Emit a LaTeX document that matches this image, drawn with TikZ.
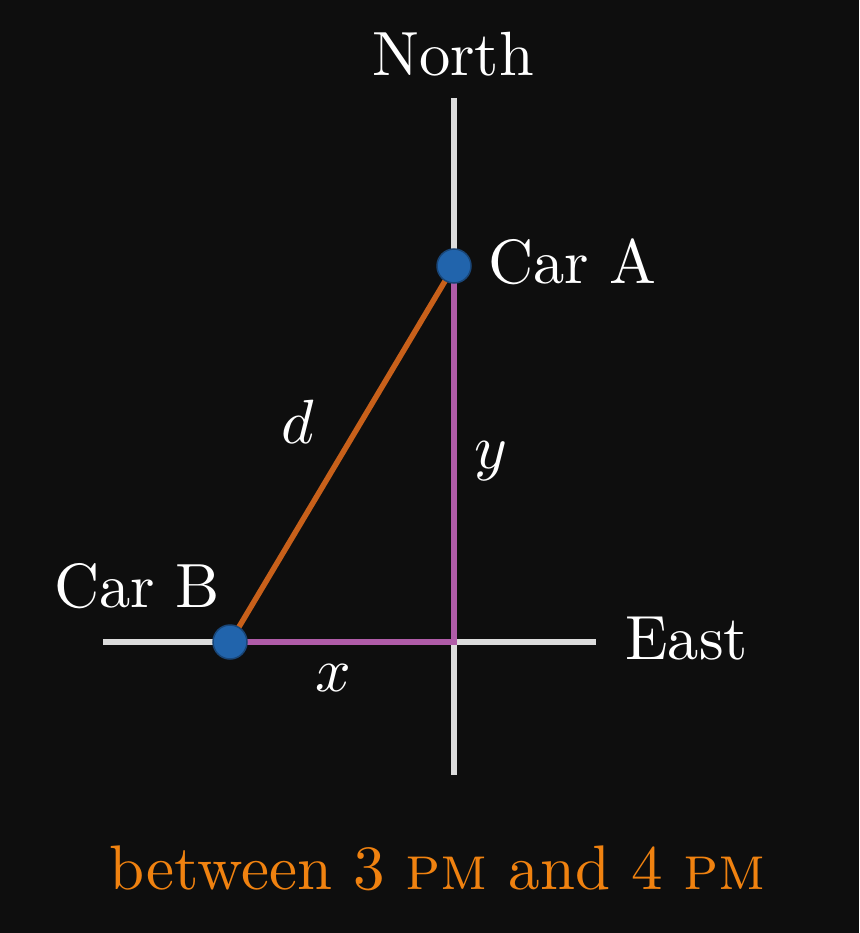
\documentclass[tikz,border=0pt]{standalone}
\begin{document}
\begin{tikzpicture}[x=1pt,y=-1pt,
  lbl/.style={text=white,inner sep=0pt,scale=6.25,font=\normalsize},
  axis/.style={draw=axisgray,line width=6pt},
  carline/.style={line width=5.5pt},
  car/.style={circle,fill=dotblue,draw=dotedge,line width=1.5pt,minimum size=34pt,inner sep=0pt}]
\definecolor{bg}{RGB}{14,14,14}
\definecolor{axisgray}{RGB}{220,220,220}
\definecolor{dlineorange}{RGB}{200,96,26}
\definecolor{legpurple}{RGB}{176,92,168}
\definecolor{dotblue}{RGB}{33,100,172}
\definecolor{dotedge}{RGB}{25,70,120}
\definecolor{txtorange}{RGB}{240,130,16}
\fill[bg] (0,0) rectangle (859,933);
\useasboundingbox (0,0) rectangle (859,933);
% axes
\coordinate (ntop) at (454,98);
\coordinate (nbot) at (454,775);
\coordinate (wend) at (103,642);
\coordinate (eend) at (596,642);
\coordinate (O) at (454,642);
\draw[axis] (ntop) -- (nbot);
\draw[axis] (wend) -- (eend);
% cars
\coordinate (A) at (454,266);
\coordinate (B) at (230,642);
\draw[carline,draw=legpurple] (A) -- (O) -- (B);
\draw[carline,draw=dlineorange] (A) -- (B);
\node[car] (carA) at (A) {};
\node[car] (carB) at (B) {};
% labels
\node[lbl,anchor=base] (north) at (453,76) {North};
\node[lbl,anchor=base west] (la) at (487,283) {Car A};
\node[lbl,anchor=base west] (lb) at (53,607) {Car B};
\node[lbl,anchor=base west] (east) at (624,659) {East};
\node[lbl] (ld) at (298,422) {$d$};
\node[lbl] (ly) at (491,461) {$y$};
\node[lbl] (lx) at (333,678) {$x$};
\node[lbl,text=txtorange,anchor=base,scale=1.008] (cap) at (438,889) {between 3 \textsc{pm} and 4 \textsc{pm}};
\end{tikzpicture}
\end{document}
